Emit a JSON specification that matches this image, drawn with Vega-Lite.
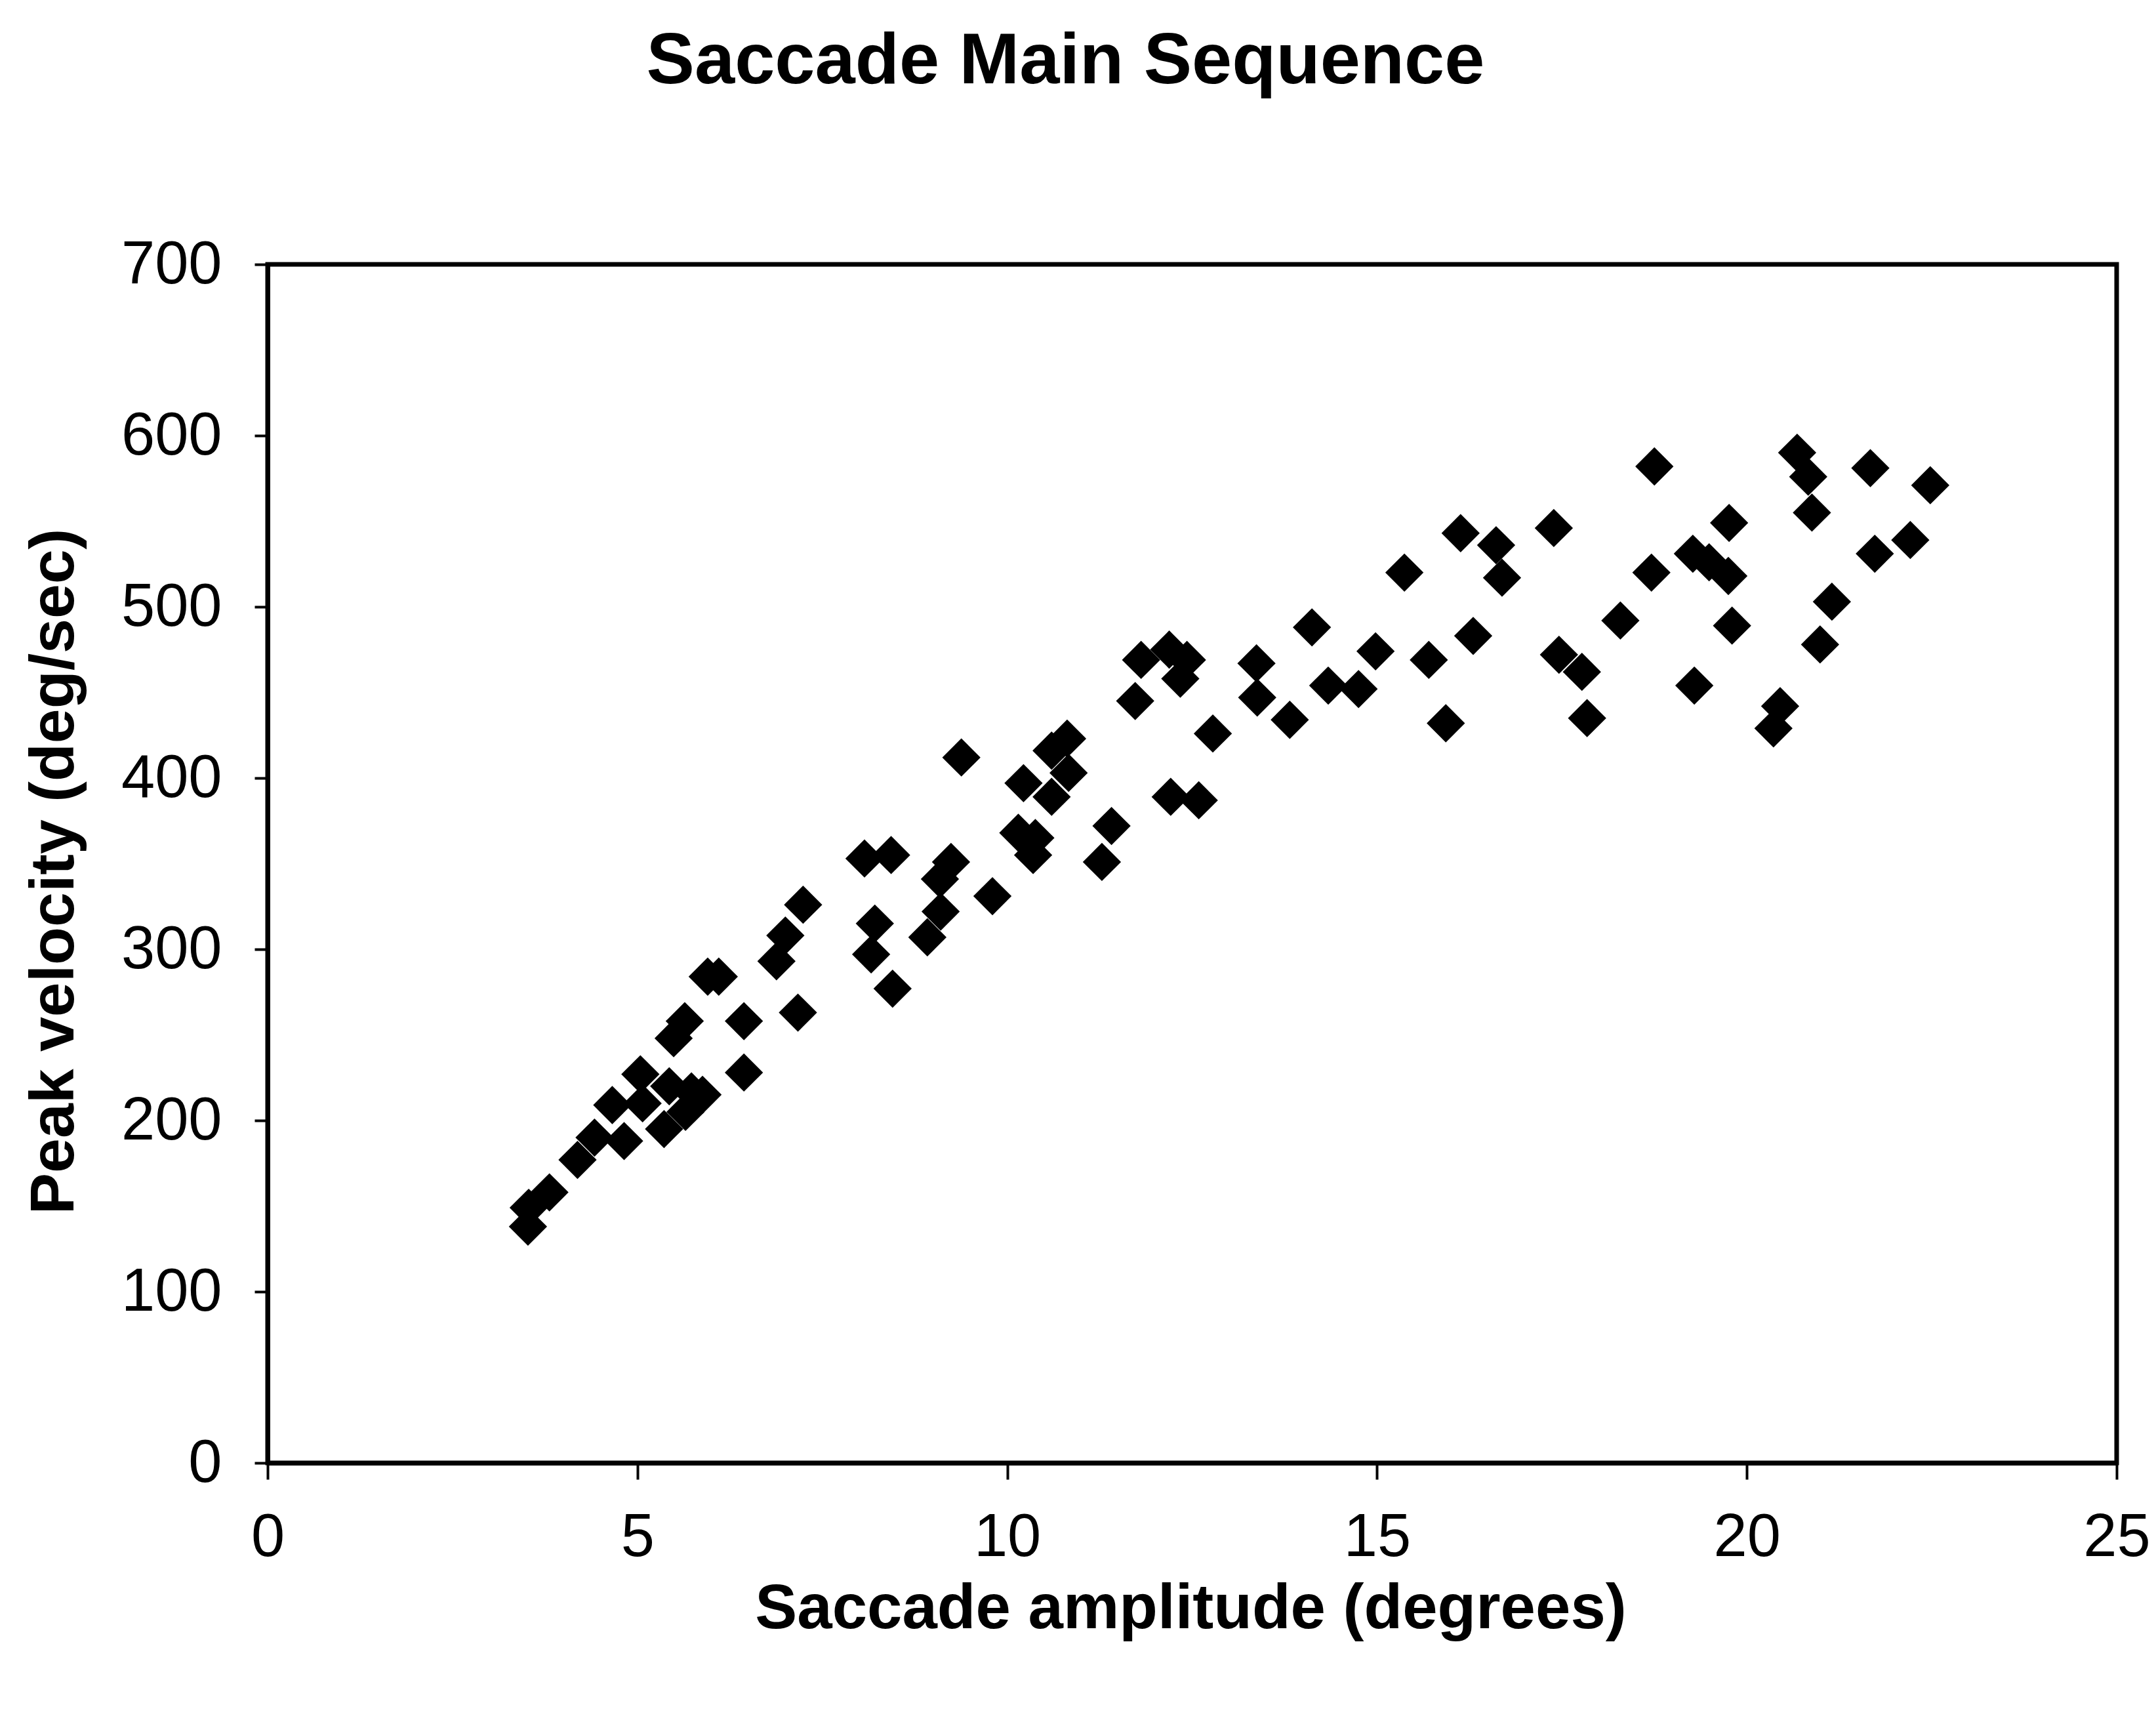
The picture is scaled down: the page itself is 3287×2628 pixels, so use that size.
{
  "$schema": "https://vega.github.io/schema/vega-lite/v6.json",
  "width": 2819,
  "height": 1827,
  "autosize": {"type": "none"},
  "padding": {"left": 408, "top": 403, "right": 60, "bottom": 398},
  "background": "white",
  "title": {
    "text": "Saccade Main Sequence",
    "font": "Liberation Sans",
    "fontWeight": "bold",
    "fontSize": 110,
    "color": "black",
    "anchor": "middle",
    "frame": "group",
    "dx": -193,
    "baseline": "alphabetic",
    "offset": 120
  },
  "config": {
    "view": {"stroke": "black", "strokeWidth": 7}
  },
  "data": {
    "values": [
      {"amplitude": 3.53, "velocity": 149},
      {"amplitude": 3.52, "velocity": 138},
      {"amplitude": 3.81, "velocity": 158},
      {"amplitude": 4.19, "velocity": 177},
      {"amplitude": 4.42, "velocity": 190},
      {"amplitude": 4.66, "velocity": 209},
      {"amplitude": 4.82, "velocity": 188},
      {"amplitude": 5.04, "velocity": 227},
      {"amplitude": 5.07, "velocity": 210},
      {"amplitude": 5.36, "velocity": 195},
      {"amplitude": 5.43, "velocity": 220},
      {"amplitude": 5.65, "velocity": 205},
      {"amplitude": 5.73, "velocity": 217},
      {"amplitude": 5.88, "velocity": 215},
      {"amplitude": 5.49, "velocity": 248},
      {"amplitude": 5.64, "velocity": 258},
      {"amplitude": 5.95, "velocity": 284},
      {"amplitude": 6.10, "velocity": 284},
      {"amplitude": 6.44, "velocity": 228},
      {"amplitude": 6.44, "velocity": 258},
      {"amplitude": 6.88, "velocity": 293},
      {"amplitude": 7.00, "velocity": 308},
      {"amplitude": 7.24, "velocity": 326},
      {"amplitude": 7.17, "velocity": 263},
      {"amplitude": 8.07, "velocity": 353},
      {"amplitude": 8.43, "velocity": 355},
      {"amplitude": 8.21, "velocity": 315},
      {"amplitude": 8.16, "velocity": 297},
      {"amplitude": 8.45, "velocity": 277},
      {"amplitude": 8.92, "velocity": 307},
      {"amplitude": 9.10, "velocity": 322},
      {"amplitude": 9.09, "velocity": 341},
      {"amplitude": 9.24, "velocity": 351},
      {"amplitude": 9.38, "velocity": 412},
      {"amplitude": 9.80, "velocity": 331},
      {"amplitude": 10.22, "velocity": 397},
      {"amplitude": 10.15, "velocity": 368},
      {"amplitude": 10.38, "velocity": 365},
      {"amplitude": 10.35, "velocity": 355},
      {"amplitude": 10.60, "velocity": 416},
      {"amplitude": 10.60, "velocity": 389},
      {"amplitude": 10.81, "velocity": 423},
      {"amplitude": 10.83, "velocity": 403},
      {"amplitude": 11.41, "velocity": 372},
      {"amplitude": 11.28, "velocity": 351},
      {"amplitude": 11.73, "velocity": 445},
      {"amplitude": 11.81, "velocity": 469},
      {"amplitude": 12.19, "velocity": 475},
      {"amplitude": 12.34, "velocity": 458},
      {"amplitude": 12.43, "velocity": 469},
      {"amplitude": 12.21, "velocity": 389},
      {"amplitude": 12.59, "velocity": 387},
      {"amplitude": 12.78, "velocity": 426},
      {"amplitude": 13.37, "velocity": 467},
      {"amplitude": 13.38, "velocity": 447},
      {"amplitude": 13.82, "velocity": 434},
      {"amplitude": 14.12, "velocity": 488},
      {"amplitude": 14.34, "velocity": 454},
      {"amplitude": 14.75, "velocity": 452},
      {"amplitude": 14.98, "velocity": 474},
      {"amplitude": 15.37, "velocity": 520},
      {"amplitude": 15.70, "velocity": 469},
      {"amplitude": 15.93, "velocity": 432},
      {"amplitude": 16.13, "velocity": 543},
      {"amplitude": 16.30, "velocity": 483},
      {"amplitude": 16.61, "velocity": 536},
      {"amplitude": 16.69, "velocity": 517},
      {"amplitude": 17.39, "velocity": 546},
      {"amplitude": 17.46, "velocity": 472},
      {"amplitude": 17.77, "velocity": 462},
      {"amplitude": 17.84, "velocity": 435},
      {"amplitude": 18.29, "velocity": 492},
      {"amplitude": 18.75, "velocity": 582},
      {"amplitude": 18.71, "velocity": 520},
      {"amplitude": 19.29, "velocity": 454},
      {"amplitude": 19.27, "velocity": 531},
      {"amplitude": 19.49, "velocity": 526},
      {"amplitude": 19.75, "velocity": 518},
      {"amplitude": 19.76, "velocity": 549},
      {"amplitude": 19.80, "velocity": 489},
      {"amplitude": 20.36, "velocity": 429},
      {"amplitude": 20.45, "velocity": 442},
      {"amplitude": 20.68, "velocity": 590},
      {"amplitude": 20.83, "velocity": 576},
      {"amplitude": 20.88, "velocity": 555},
      {"amplitude": 20.99, "velocity": 478},
      {"amplitude": 21.15, "velocity": 503},
      {"amplitude": 21.67, "velocity": 581},
      {"amplitude": 21.73, "velocity": 531},
      {"amplitude": 22.21, "velocity": 539},
      {"amplitude": 22.48, "velocity": 571}
    ]
  },
  "mark": {"type": "point", "shape": "diamond", "filled": true, "color": "black", "opacity": 1, "size": 3400},
  "encoding": {
    "x": {
      "field": "amplitude",
      "type": "quantitative",
      "scale": {"domain": [0, 25], "nice": false},
      "axis": {
        "values": [0, 5, 10, 15, 20, 25],
        "grid": false,
        "domainColor": "black",
        "domainWidth": 7,
        "tickColor": "black",
        "tickWidth": 4,
        "tickSize": 25,
        "labelFont": "Liberation Sans",
        "labelFontSize": 92,
        "labelColor": "black",
        "labelBaseline": "middle",
        "labelPadding": 88,
        "labelFlush": false,
        "title": "Saccade amplitude (degrees)",
        "titleFont": "Liberation Sans",
        "titleFontSize": 96,
        "titleFontWeight": "bold",
        "titleColor": "black",
        "titleX": 1407,
        "titleY": 222,
        "titleAlign": "center",
        "titleBaseline": "middle"
      }
    },
    "y": {
      "field": "velocity",
      "type": "quantitative",
      "scale": {"domain": [0, 700], "nice": false},
      "axis": {
        "values": [0, 100, 200, 300, 400, 500, 600, 700],
        "grid": false,
        "domainColor": "black",
        "domainWidth": 7,
        "tickColor": "black",
        "tickWidth": 4,
        "tickSize": 20,
        "labelFont": "Liberation Sans",
        "labelFontSize": 92,
        "labelColor": "black",
        "labelPadding": 50,
        "labelFlush": false,
        "title": "Peak velocity (deg/sec)",
        "titleFont": "Liberation Sans",
        "titleFontSize": 95,
        "titleFontWeight": "bold",
        "titleColor": "black",
        "titleAngle": -90,
        "titleX": -326,
        "titleY": 925,
        "titleAlign": "center",
        "titleBaseline": "middle"
      }
    }
  }
}
